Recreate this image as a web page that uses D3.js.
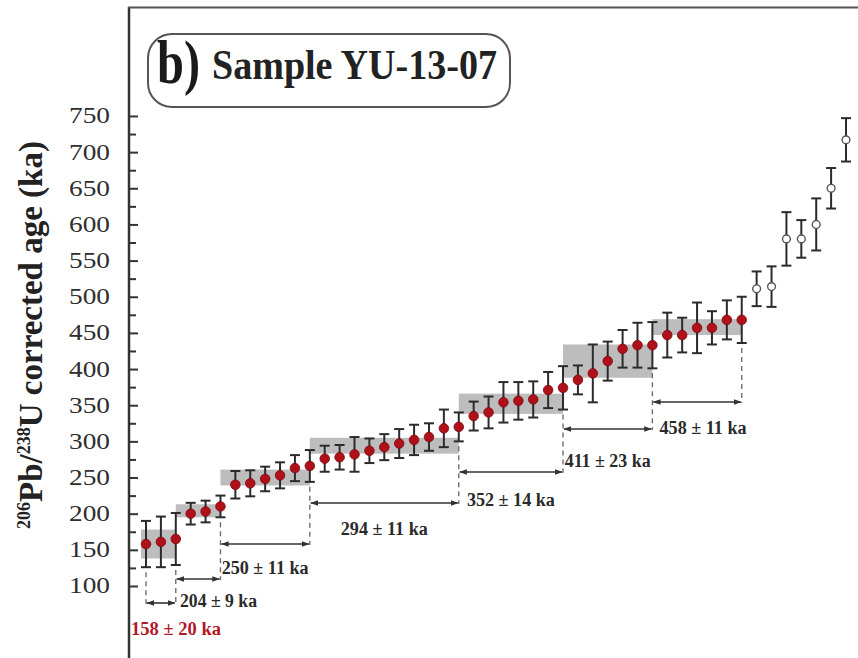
<!DOCTYPE html>
<html>
<head>
<meta charset="utf-8">
<script src="https://cdn.jsdelivr.net/npm/d3@7"></script>
<style>
  body { margin: 0; background: #fff; }
  text { font-family: "Liberation Serif", "Times New Roman", serif; }
</style>
</head>
<body>
<div id="canvas"></div>
<script>
const w = 858, h = 658;

// single-grain ages (ka) and 2-sigma errors
const ages = [158, 161, 165, 200, 203, 210, 240, 242, 248, 253, 263, 266,
              276, 278, 282, 287, 292, 297, 302, 306, 318, 320,
              335, 340, 354, 356, 358, 371, 374,
              385, 394, 411, 428, 433, 433,
              447, 447, 457, 457, 468, 468,
              511, 514, 580, 580, 600, 650, 717];
const errs = [32, 35, 36, 15, 15, 15, 19, 18, 17, 18, 18, 22,
              18, 17, 24, 17, 18, 20, 21, 19, 26, 20,
              20, 22, 28, 26, 25, 25, 30,
              20, 40, 27, 26, 31, 32,
              31, 24, 35, 23, 27, 32,
              24, 28, 37, 26, 36, 28, 30];
const nUsed = 41; // the rest are open symbols (excluded)

// weighted-mean populations
const groupEnds = [0, 2, 5, 11, 21, 28, 34, 40];
const groupAges = [158, 204, 250, 294, 352, 411, 458];
const groupErrs = [20, 9, 11, 11, 14, 23, 11];
const groupLabels = groupAges.map((a, i) => a + " \u00b1 " + groupErrs[i] + " ka");

const yTicks = d3.range(100, 751, 25);
const yLabels = d3.range(100, 751, 50);

// layout of the annotations
const arrowY = [603, 579, 544, 503, 472, 429, 402];
const labelY = [635, 607, 574, 535, 506, 467, 434];
const labelW = [90, 77, 87, 87, 88, 86, 87];

let svg = d3.select("#canvas")
            .append("svg")
                .attr("width", w)
                .attr("height", h)
                .attr("viewBox", [0, 0, w, h]);

let x = d3.scaleLinear().domain([0, ages.length - 1]).range([146, 846]);
let y = d3.scaleLinear().domain([0, 900]).range([658.3, 7.5]);

let defs = svg.append("defs");
defs.append("marker")
    .attr("id", "ah")
    .attr("viewBox", "0 0 10 10")
    .attr("refX", 9).attr("refY", 5)
    .attr("markerWidth", 8).attr("markerHeight", 8)
    .attr("markerUnits", "userSpaceOnUse")
    .attr("orient", "auto-start-reverse")
  .append("path")
    .attr("d", "M0,1.5 L10,5 L0,8.5 z")
    .attr("fill", "#333");

// frame
svg.append("line").attr("x1", 129).attr("x2", 129).attr("y1", 7).attr("y2", h)
    .attr("stroke", "#333").attr("stroke-width", 2.5);
svg.append("line").attr("x1", 128).attr("x2", w).attr("y1", 7.5).attr("y2", 7.5)
    .attr("stroke", "#555").attr("stroke-width", 2);

// y axis ticks pointing inwards
let yAxis = d3.axisRight(y)
    .tickValues(yTicks)
    .tickSize(0)
    .tickFormat("");
let gY = svg.append("g").attr("transform", "translate(129,0)").call(yAxis);
gY.select(".domain").remove();
gY.selectAll(".tick line")
    .attr("x2", d => d % 50 === 0 ? 9 : 7)
    .attr("stroke", "#333")
    .attr("stroke-width", 2);
svg.append("g").selectAll("text")
    .data(yLabels)
  .enter().append("text")
    .attr("x", 110)
    .attr("y", d => y(d) + 7.5)
    .attr("text-anchor", "end")
    .attr("font-size", 22.5)
    .attr("textLength", 41)
    .attr("lengthAdjust", "spacingAndGlyphs")
    .attr("fill", "#2e2e2e")
    .text(d => d);

// y axis title
let yt = svg.append("text")
    .attr("transform", "translate(42,335) rotate(-90)")
    .attr("text-anchor", "middle")
    .attr("font-size", 33)
    .attr("font-weight", "bold")
    .attr("fill", "#222");
yt.append("tspan").attr("font-size", 18).attr("dy", -12).text("206");
yt.append("tspan").attr("dy", 12).text("Pb/");
yt.append("tspan").attr("font-size", 18).attr("dy", -12).text("238");
yt.append("tspan").attr("dy", 12).text("U corrected age (ka)");

// title box
svg.append("rect")
    .attr("x", 148).attr("y", 34).attr("width", 362).attr("height", 73)
    .attr("rx", 24)
    .attr("fill", "none").attr("stroke", "#555").attr("stroke-width", 2);
svg.append("text")
    .attr("x", 157).attr("y", 83)
    .attr("font-size", 62).attr("font-weight", "bold")
    .attr("textLength", 43).attr("lengthAdjust", "spacingAndGlyphs")
    .attr("fill", "#1a1a1a")
    .text("b)");
svg.append("text")
    .attr("x", 212).attr("y", 79)
    .attr("font-size", 42).attr("font-weight", "bold")
    .attr("textLength", 285).attr("lengthAdjust", "spacingAndGlyphs")
    .attr("fill", "#222")
    .text("Sample YU-13-07");

// grey bands for each population
let groups = groupAges.map((a, i) => ({
    age: a, err: groupErrs[i], label: groupLabels[i],
    from: groupEnds[i], to: groupEnds[i + 1], i: i
}));

svg.append("g").selectAll("rect")
    .data(groups)
  .enter().append("rect")
    .attr("x", d => d.i === 0 ? x(d.from) - 5 : x(d.from))
    .attr("width", d => x(d.to) - x(d.from) + (d.i === 0 ? 5 : 0))
    .attr("y", d => y(d.age + d.err))
    .attr("height", d => y(d.age - d.err) - y(d.age + d.err))
    .attr("fill", "#bdbdbd");

// dashed boundaries
let bounds = groupEnds.map((b, k) => {
    let ys = [];
    if (k > 0) ys.push(arrowY[k - 1]);
    if (k < groupAges.length) ys.push(arrowY[k]);
    return { idx: b, bottom: d3.max(ys) };
});
svg.append("g").selectAll("line")
    .data(bounds)
  .enter().append("line")
    .attr("x1", d => x(d.idx)).attr("x2", d => x(d.idx))
    .attr("y1", d => y(ages[d.idx] - errs[d.idx]) + 5)
    .attr("y2", d => d.bottom + 1)
    .attr("stroke", "#666")
    .attr("stroke-width", 1.3)
    .attr("stroke-dasharray", "5,4");

// arrows
svg.append("g").selectAll("line")
    .data(groups)
  .enter().append("line")
    .attr("x1", d => x(d.from) + 1).attr("x2", d => x(d.to) - 1)
    .attr("y1", d => arrowY[d.i]).attr("y2", d => arrowY[d.i])
    .attr("stroke", "#333").attr("stroke-width", 1.6)
    .attr("marker-start", "url(#ah)")
    .attr("marker-end", "url(#ah)");

svg.append("g").selectAll("text")
    .data(groups)
  .enter().append("text")
    .attr("x", d => d.i === 0 ? 131 : d.i === 1 ? 180 : (x(d.from) + x(d.to)) / 2 + (d.i === 6 ? 6 : 0))
    .attr("y", d => labelY[d.i])
    .attr("text-anchor", d => d.i < 2 ? "start" : "middle")
    .attr("font-size", 18).attr("font-weight", "bold")
    .attr("textLength", d => labelW[d.i])
    .attr("lengthAdjust", "spacingAndGlyphs")
    .attr("fill", d => d.i === 0 ? "#b2182b" : "#2a2a2a")
    .text(d => d.label);

// error bars
let pts = ages.map((a, i) => ({ i: i, age: a, err: errs[i], used: i < nUsed }));
let eb = svg.append("g").attr("stroke", "#2b2b2b").attr("stroke-width", 2);
eb.selectAll(".stem")
    .data(pts)
  .enter().append("line")
    .attr("class", "stem")
    .attr("x1", d => x(d.i)).attr("x2", d => x(d.i))
    .attr("y1", d => y(d.age + d.err)).attr("y2", d => y(d.age - d.err));
eb.selectAll(".capt")
    .data(pts)
  .enter().append("line")
    .attr("class", "capt")
    .attr("x1", d => x(d.i) - 5).attr("x2", d => x(d.i) + 5)
    .attr("y1", d => y(d.age + d.err)).attr("y2", d => y(d.age + d.err));
eb.selectAll(".capb")
    .data(pts)
  .enter().append("line")
    .attr("class", "capb")
    .attr("x1", d => x(d.i) - 5).attr("x2", d => x(d.i) + 5)
    .attr("y1", d => y(d.age - d.err)).attr("y2", d => y(d.age - d.err));

// points
svg.append("g").selectAll("circle")
    .data(pts)
  .enter().append("circle")
    .attr("cx", d => x(d.i))
    .attr("cy", d => y(d.age))
    .attr("r", d => d.used ? 4.8 : 3.9)
    .attr("fill", d => d.used ? "#b0101a" : "#fff")
    .attr("stroke", d => d.used ? "#7a0a10" : "#555")
    .attr("stroke-width", d => d.used ? 0.8 : 1.4);
</script>
</body>
</html>
